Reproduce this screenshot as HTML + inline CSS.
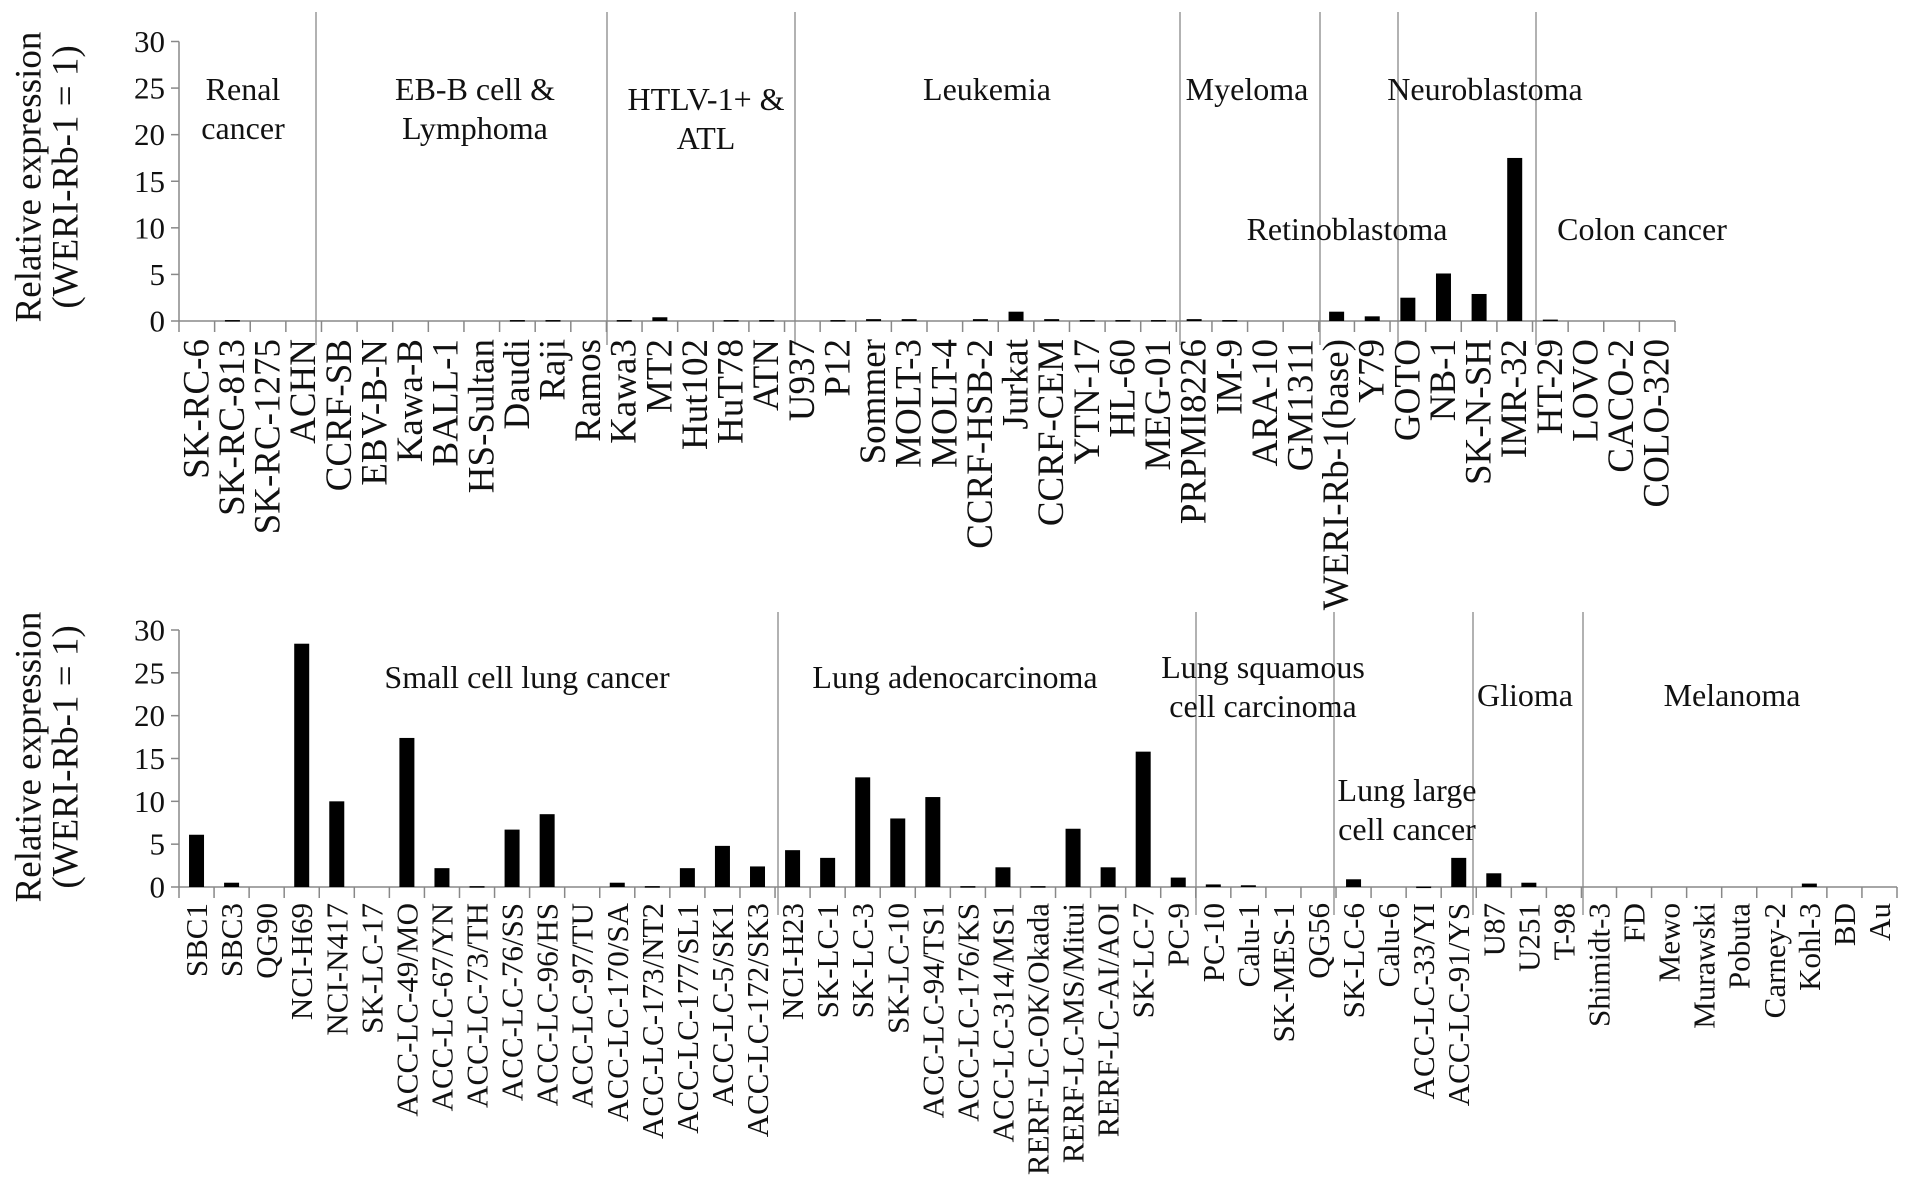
<!DOCTYPE html>
<html><head><meta charset="utf-8"><style>
html,body{margin:0;padding:0;background:#fff;}
svg{display:block;}
svg text{font-family:"Liberation Serif","DejaVu Serif",serif;}
</style></head><body>
<svg id="chart" width="1913" height="1181" viewBox="0 0 1913 1181" xmlns="http://www.w3.org/2000/svg"></svg>
<script>
const topCategories=["SK-RC-6","SK-RC-813","SK-RC-1275","ACHN","CCRF-SB","EBV-B-N","Kawa-B","BALL-1","HS-Sultan","Daudi","Raji","Ramos","Kawa3","MT2","Hut102","HuT78","ATN","U937","P12","Sommer","MOLT-3","MOLT-4","CCRF-HSB-2","Jurkat","CCRF-CEM","YTN-17","HL-60","MEG-01","PRPMI8226","IM-9","ARA-10","GM1311","WERI-Rb-1(base)","Y79","GOTO","NB-1","SK-N-SH","IMR-32","HT-29","LOVO","CACO-2","COLO-320"];
const topValues=[0,0.1,0,0,0,0,0,0,0,0.1,0.1,0,0.1,0.4,0,0.1,0.1,0,0.1,0.2,0.2,0,0.2,1.0,0.2,0.1,0.1,0.1,0.2,0.1,0,0,1.0,0.5,2.5,5.1,2.9,17.5,0.15,0,0,0];
const bottomCategories=["SBC1","SBC3","QG90","NCI-H69","NCI-N417","SK-LC-17","ACC-LC-49/MO","ACC-LC-67/YN","ACC-LC-73/TH","ACC-LC-76/SS","ACC-LC-96/HS","ACC-LC-97/TU","ACC-LC-170/SA","ACC-LC-173/NT2","ACC-LC-177/SL1","ACC-LC-5/SK1","ACC-LC-172/SK3","NCI-H23","SK-LC-1","SK-LC-3","SK-LC-10","ACC-LC-94/TS1","ACC-LC-176/KS","ACC-LC-314/MS1","RERF-LC-OK/Okada","RERF-LC-MS/Mitui","RERF-LC-AI/AOI","SK-LC-7","PC-9","PC-10","Calu-1","SK-MES-1","QG56","SK-LC-6","Calu-6","ACC-LC-33/YI","ACC-LC-91/YS","U87","U251","T-98","Shimidt-3","FD","Mewo","Murawski","Pobuta","Carney-2","Kohl-3","BD","Au"];
const bottomValues=[6.1,0.5,0,28.4,10,0,17.4,2.2,0.1,6.7,8.5,0,0.5,0.1,2.2,4.8,2.4,4.3,3.4,12.8,8.0,10.5,0.1,2.3,0.1,6.8,2.3,15.8,1.1,0.3,0.2,0,0,0.9,0,0.05,3.4,1.6,0.5,0,0,0,0,0,0,0,0.4,0,0];
const yTicks=[0,5,10,15,20,25,30];
const topGroups=[["Renal","cancer"],["EB-B cell &","Lymphoma"],["HTLV-1+ &","ATL"],["Leukemia"],["Myeloma"],["Neuroblastoma"],["Retinoblastoma"],["Colon cancer"]];
const bottomGroups=[["Small cell lung cancer"],["Lung adenocarcinoma"],["Lung squamous","cell carcinoma"],["Lung large","cell cancer"],["Glioma"],["Melanoma"]];

const NS="http://www.w3.org/2000/svg";
const svg=document.getElementById('chart');
const FF='"Liberation Serif", serif';
function mk(tag,attrs,parent){const e=document.createElementNS(NS,tag);for(const k in attrs)e.setAttribute(k,attrs[k]);if(tag==='text')e.setAttribute('font-family',FF);(parent||svg).appendChild(e);return e;}

function panel(cfg){
  const g=mk('g',{});
  
  
  const x0=cfg.x0,x1=cfg.x1,y0=cfg.y0,y30=cfg.y30,n=cfg.cats.length,step=(x1-x0)/n;
  const yS=v=>y0-(y0-y30)*v/30;
  const xS=i=>x0+step*(i+0.5);
  cfg.dividers.forEach(d=>{const l=mk('line',{x1:d,x2:d,y1:cfg.dTop,y2:cfg.dBot,stroke:'#999','stroke-width':1.5},g);
    
    });
  const ya=mk('line',{x1:x0,x2:x0,y1:y30,y2:y0,stroke:'#888','stroke-width':1.5},g);
  
  
  yTicks.forEach(t=>{mk('line',{x1:x0-8,x2:x0,y1:yS(t),y2:yS(t),stroke:'#888','stroke-width':1.5},g);
    const tx=mk('text',{x:x0-14,y:yS(t),'text-anchor':'end','dominant-baseline':'central','font-size':31,fill:'#111'},g);
    tx.textContent=t;
    
    });
  const xa=mk('line',{x1:x0,x2:x1,y1:y0,y2:y0,stroke:'#888','stroke-width':1.5},g);
  
  
  for(let i=0;i<=n;i++){const x=x0+step*i;mk('line',{x1:x,x2:x,y1:y0,y2:y0+11,stroke:'#888','stroke-width':1.5},g);}
  cfg.vals.forEach((v,i)=>{if(v<=0)return;const y=yS(v);
    const b=mk('rect',{x:xS(i)-7.5,y:y,width:15,height:Math.max(y0-y,1.5),fill:'#000'},g);
    
    });
  cfg.cats.forEach((c,i)=>{const x=xS(i),y=y0+cfg.lblOff;
    const t=mk('text',{x:x,y:y,'text-anchor':'end','dominant-baseline':'central','font-size':cfg.lblSize,fill:'#111',transform:`rotate(-90 ${x} ${y})`},g);
    t.textContent=c;
    
    });
  const cx=cfg.titleY;
  [['Relative expression',29],['(WERI-Rb-1 = 1)',66]].forEach(p=>{
    const t=mk('text',{x:p[1],y:cx,'text-anchor':'middle','dominant-baseline':'central','font-size':37,fill:'#111',transform:`rotate(-90 ${p[1]} ${cx})`},g);
    t.textContent=p[0];
    
    });
  cfg.groups.forEach((lines,k)=>{const p=cfg.gpos[k];
    lines.forEach((ln,j)=>{const t=mk('text',{x:p[0],y:p[1]+j*39,'text-anchor':'middle','dominant-baseline':'central','font-size':32,fill:'#111'},g);
      t.textContent=ln;
      
      });});
}
panel({name:'top-panel',cats:topCategories,vals:topValues,x0:179,x1:1675,y0:321,y30:41.5,lblSize:37,lblOff:18,
  dividers:[316,607,795,1180,1320,1398,1536],dTop:12,dBot:345,titleY:177,groups:topGroups,
  gpos:[[243,89],[475,89],[706,99],[987,89],[1247,89],[1485,89],[1347,229],[1642,229]]});
panel({name:'bottom-panel',cats:bottomCategories,vals:bottomValues,x0:179,x1:1897,y0:887,y30:630,lblSize:31,lblOff:16,
  dividers:[778,1196,1334,1473,1583],dTop:612,dBot:915,titleY:757,groups:bottomGroups,
  gpos:[[527,677],[955,677],[1263,667],[1407,790],[1525,695],[1732,695]]});
</script>
</body></html>
